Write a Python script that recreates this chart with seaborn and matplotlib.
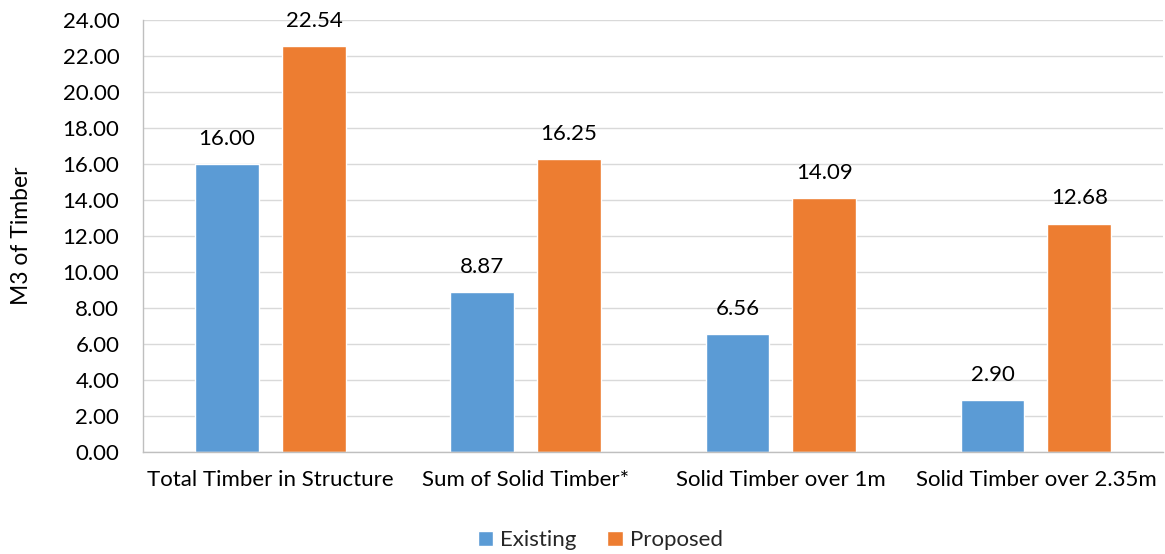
import matplotlib
matplotlib.use("Agg")
import matplotlib.pyplot as plt
import seaborn as sns
import pandas as pd

categories = ["Total Timber in Structure", "Sum of Solid Timber*",
              "Solid Timber over 1m", "Solid Timber over 2.35m"]
existing = [16.00, 8.87, 6.56, 2.90]
proposed = [22.54, 16.25, 14.09, 12.68]
series = ["Existing", "Proposed"]
colors = ["#5B9BD5", "#ED7D31"]
yticks = [0, 2, 4, 6, 8, 10, 12, 14, 16, 18, 20, 22, 24]

df = pd.DataFrame({
    "category": categories * 2,
    "value": existing + proposed,
    "series": [series[0]] * len(categories) + [series[1]] * len(categories),
})

sns.set_theme(style="white")
plt.rcParams["font.family"] = ["Lato", "DejaVu Sans"]

FS = 16

fig = plt.figure(figsize=(11.65, 5.54), dpi=100)
ax = fig.add_axes([0.1227, 0.184, 0.876, 0.780])

sns.barplot(data=df, x="category", y="value", hue="series", order=categories,
            hue_order=series, palette=colors, width=0.68, saturation=1,
            errorbar=None, ax=ax, legend=True)

# narrow each bar around its own centre to leave a gap between the pair
bar_w = 0.25
for p in ax.patches:
    if p.get_height() == 0 and p.get_width() == 0:
        continue
    c = p.get_x() + p.get_width() / 2
    p.set_width(bar_w)
    p.set_x(c - bar_w / 2)

for cont in ax.containers:
    ax.bar_label(cont, fmt="%.2f", padding=11, fontsize=FS, color="#000000")

ax.set_xlim(-0.5, 3.5)
ax.set_ylim(0, 24)
ax.set_yticks(yticks)
ax.set_yticklabels([f"{v:.2f}" for v in yticks])
ax.yaxis.grid(True, color="#D9D9D9", linewidth=1)
ax.set_axisbelow(True)
ax.tick_params(axis="both", length=0, labelsize=FS, colors="#000000")
ax.tick_params(axis="x", pad=13)
ax.tick_params(axis="y", pad=17)
for s in ["top", "right"]:
    ax.spines[s].set_visible(False)
for s in ["left", "bottom"]:
    ax.spines[s].set_color("#BFBFBF")
    ax.spines[s].set_linewidth(1)
ax.set_xlabel("")
ax.set_ylabel("M3 of Timber", fontsize=16.5, labelpad=22, color="#000000")

leg = ax.legend(loc="lower center", bbox_to_anchor=(0.448, -0.274), ncol=2,
                frameon=False, fontsize=FS, handlelength=0.7, handleheight=0.7,
                handletextpad=0.3, columnspacing=1.4)

fig.savefig("out.png", dpi=100)
